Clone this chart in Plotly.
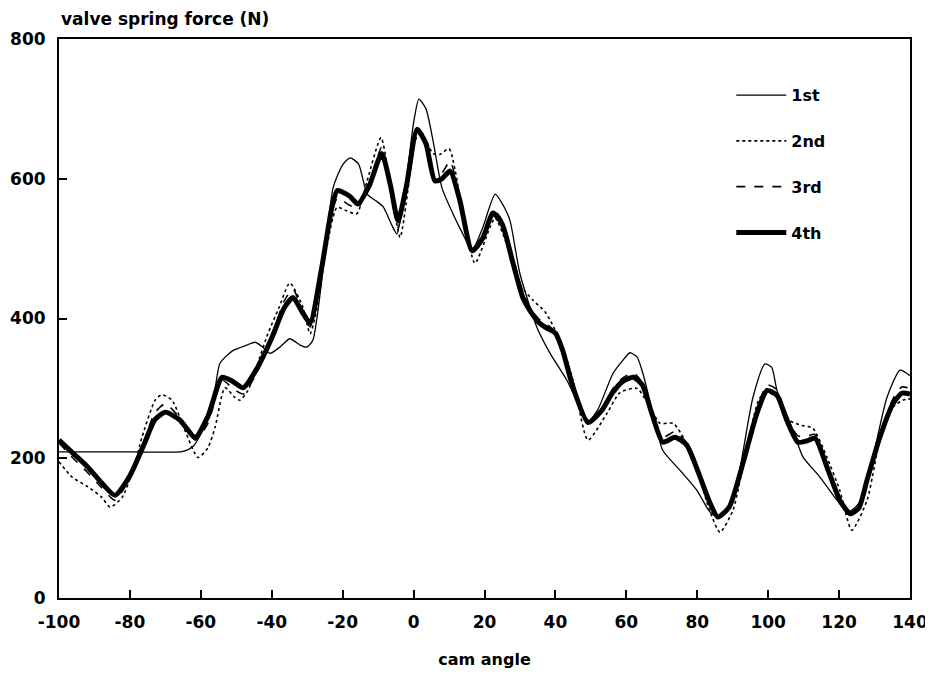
import plotly.graph_objects as go

# cam angle grid for 3rd and 4th
x_grid = [-100,-96,-92,-88,-84.2,-80,-76,-73,-70,-66,-61.6,-58,-54,-51,-48,-44,-40,-36.5,-34,-31.5,
          -29.2,-26,-23,-21.5,-18,-15.7,-12.5,-9,-6.5,-4.4,-2,1,3.5,6,8,10.3,13,16.5,19.5,22.4,
          25,28,30.8,33,35.6,38,40,42,45,49.2,53,56,59,62,64.5,67.2,70.3,73.7,77,80.8,
          83.6,85.8,89,92.9,96.8,99.7,102.5,105.3,108.4,111,113.2,116.9,120.2,123.1,125.5,127.9,131.5,135.2,137.7,140]

force_4th = [226,207,188,165,147,175,220,255,266,255,230,260,316,310,301,330,372,415,430,410,
             394,470,560,583,575,564,590,636,590,540,590,671,650,597,600,611,570,497,515,551,
             535,480,430,410,393,385,379,355,301,251,268,293,310,316,305,264,223,230,219,173,
             136,116,130,193,264,297,290,254,223,225,229,183,140,121,128,169,230,278,293,292]

force_3rd = [222,200,180,158,140,172,224,265,278,258,226,250,312,300,292,325,375,425,442,412,
             388,465,552,572,562,558,592,645,585,530,590,668,652,600,608,625,572,495,510,556,
             540,488,438,414,398,390,380,350,298,250,268,298,315,322,308,262,230,238,222,172,
             134,117,130,196,270,305,298,258,232,232,234,188,140,118,126,170,234,285,302,300]

x_1st = [-100,-80,-65,-62,-59,-56,-54.6,-51,-47,-44.7,-42.5,-40.5,-37.5,-34.9,-32,-30.1,-28.4,-26,-22.7,-20,
         -17.9,-15.5,-13.1,-10.5,-8.6,-5.8,-4.7,-2.5,0,1.5,3.5,5.5,8,11.1,13.5,16.5,19.5,23,25.5,27.2,
         30,34.8,38.5,43.3,47.8,49.5,52,56.2,59,61,63,64.7,67.5,70.3,75.1,79.9,83.6,85.8,88.5,91.2,
         95.7,99.1,101,102.5,107,109.8,114.6,119.4,122.5,125.5,128.7,133.5,137.2,140]
force_1st = [209,209,210,218,245,300,336,354,362,366,359,350,360,371,362,359,369,450,587,620,
             630,621,578,568,560,530,521,580,680,714,700,654,587,550,525,498,530,578,560,540,
             464,387,350,311,264,254,270,321,340,351,345,321,264,211,183,154,123,116,128,164,
             287,335,330,297,240,202,173,140,123,135,183,287,326,318]

x_2nd = [-100,-96.3,-91.8,-87.9,-85.6,-82.2,-79,-76.6,-72.9,-71,-68.1,-64.5,-60.8,-58,-56,-53.2,-50.4,-49,-46.7,-44,
         -41.1,-38,-34.9,-31.2,-29.2,-27,-25.5,-21.6,-18.8,-16,-13.1,-9.2,-6.7,-3.8,-1,0.4,2,5.5,7.5,10,
         13.9,17.3,21.5,23,26,29.2,33.7,37,39,42,45,49.2,54.5,58.2,63,66.7,69.5,73.2,76.5,80.8,
         83.5,86.4,90.1,94,97.7,100.5,103,106.1,109.5,112.6,116.6,120.2,123.6,127.9,131.5,135.2,138,140]
force_2nd = [195,173,159,144,130,144,185,230,283,291,283,240,201,215,244,301,287,283,297,335,
             378,415,451,416,378,420,473,559,554,550,597,659,597,516,607,654,668,636,635,643,
             550,479,530,544,510,454,426,410,393,360,311,226,264,294,300,273,250,250,226,169,
             125,94,126,216,287,293,285,254,247,243,201,154,97,140,226,273,283,285]

x_ticks = [-100,-80,-60,-40,-20,0,20,40,60,80,100,120,140]
y_ticks = [0,200,400,600,800]

FONT = "DejaVu Sans"

fig = go.Figure()
fig.add_trace(go.Scatter(x=x_1st, y=force_1st, name="1st", mode="lines", legendgroup="a",
                         line=dict(color="black", width=1.3, shape="spline", smoothing=0.6)))
fig.add_trace(go.Scatter(x=x_2nd, y=force_2nd, name="2nd", mode="lines", legendgroup="b",
                         line=dict(color="black", width=1.6, dash="dot", shape="spline", smoothing=0.6)))
fig.add_trace(go.Scatter(x=x_grid, y=force_3rd, name="3rd", mode="lines", legendgroup="c",
                         line=dict(color="black", width=1.6, dash="dash", shape="spline", smoothing=0.6)))
fig.add_trace(go.Scatter(x=x_grid, y=force_4th, name="4th", mode="lines", legendgroup="d",
                         line=dict(color="black", width=5, shape="spline", smoothing=0.6)))

fig.update_layout(
    width=925, height=670,
    margin=dict(l=51, r=23, t=31, b=80),
    paper_bgcolor="white", plot_bgcolor="white",
    font=dict(family=FONT, size=16, color="black", weight="bold"),
    showlegend=True,
    legend=dict(x=0.79, y=0.93, xanchor="left", yanchor="top", bgcolor="rgba(0,0,0,0)",
                tracegroupgap=22, itemwidth=50,
                font=dict(size=16, family=FONT, weight="bold")),
    xaxis=dict(range=[-100, 140], tickvals=x_ticks, ticktext=[str(v) for v in x_ticks],
               ticks="inside", ticklen=8, tickwidth=1.5, tickcolor="black",
               showline=True, linecolor="black", linewidth=2, mirror=True,
               showgrid=False, zeroline=False, ticklabelstandoff=8, automargin=False,
               tickfont=dict(size=17, family=FONT, weight="bold"),
               title=dict(text="cam angle", font=dict(size=16, family=FONT, weight="bold"), standoff=22)),
    yaxis=dict(range=[0, 800], tickvals=y_ticks, ticks="inside", ticklen=8, tickwidth=1.5,
               tickcolor="black", showline=True, linecolor="black", linewidth=2, mirror=True,
               showgrid=False, zeroline=False, ticklabelstandoff=8, automargin=False,
               tickfont=dict(size=17, family=FONT, weight="bold")),
    annotations=[dict(text="valve spring force (N)", xref="paper", yref="paper", x=0, y=1,
                      xanchor="left", yanchor="bottom", yshift=8, showarrow=False,
                      font=dict(size=17, family=FONT, weight="bold"))],
)

fig.write_html("out.html")
